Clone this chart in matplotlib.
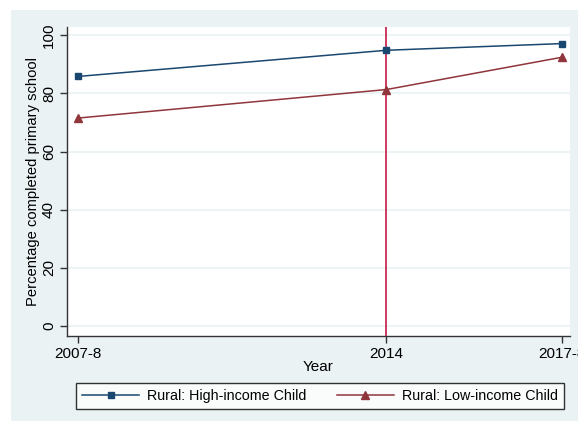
#!/usr/bin/env python3
"""Primary school completion, rural children by income group."""

import matplotlib
matplotlib.use('Agg')
import matplotlib.pyplot as plt
from matplotlib.patches import Rectangle

# ── Data ────────────────────────────────────────────────────────────
YEAR_POS = [2007.5, 2014, 2017.7]
YEAR_LABELS = ['2007-8', '2014', '2017-8']
HIGH_INCOME = [85.8, 94.8, 97.1]
LOW_INCOME = [71.5, 81.3, 92.4]
Y_TICKS = [0, 20, 40, 60, 80, 100]
POLICY_YEAR = 2014

BG = '#eaf2f3'
BLUE = '#1a476f'
RED = '#90353b'
VLINE = '#c10534'

plt.rcParams['font.family'] = ['Liberation Sans', 'DejaVu Sans']
plt.rcParams['font.size'] = 11

W, H = 578, 421
fig = plt.figure(figsize=(W / 100, H / 100), dpi=100, facecolor='white')
bg = Rectangle((11 / W, 0), 1 - 11 / W, (H - 10) / H,
               transform=fig.transFigure, facecolor=BG,
               edgecolor='none', zorder=-5)
fig.patches.append(bg)

ax = fig.add_axes([67 / W, (H - 336) / H, (570 - 67) / W, (336 - 27) / H])
ax.set_facecolor('white')

for y in Y_TICKS:
    ax.axhline(y, color=BG, linewidth=1.2, zorder=1)

ax.axvline(POLICY_YEAR, color=VLINE, linewidth=1.1, zorder=2)

ax.plot(YEAR_POS, HIGH_INCOME, color=BLUE, linewidth=1.1, marker='s',
        markersize=5, label='Rural: High-income Child', zorder=3)
ax.plot(YEAR_POS, LOW_INCOME, color=RED, linewidth=1.1, marker='^',
        markersize=6, label='Rural: Low-income Child', zorder=3)

ax.set_xlim(2007.27, 2017.87)
ax.set_ylim(-3.4, 102.8)
ax.set_xticks(YEAR_POS)
ax.set_xticklabels(YEAR_LABELS)
ax.set_yticks(Y_TICKS)
ax.set_yticklabels([str(v) for v in Y_TICKS], rotation=90, va='center')
ax.tick_params(axis='both', direction='out', length=5, width=1,
               color='#333333', pad=3)

for side in ('top', 'right'):
    ax.spines[side].set_visible(False)
for side in ('left', 'bottom'):
    ax.spines[side].set_color('#333333')
    ax.spines[side].set_linewidth(1)

ax.set_xlabel('Year', labelpad=-1)
ax.set_ylabel('Percentage completed primary school', fontsize=10.6, labelpad=1)

leg = fig.legend(loc='center', ncol=2, bbox_to_anchor=(320 / W, (H - 396) / H),
                 frameon=True, fancybox=False, edgecolor='black',
                 fontsize=10.3, handlelength=4.0, handletextpad=0.55,
                 columnspacing=2.1, borderpad=0.45, borderaxespad=0)
leg.get_frame().set_linewidth(1)

fig.savefig('out.png', dpi=100, facecolor='white')
